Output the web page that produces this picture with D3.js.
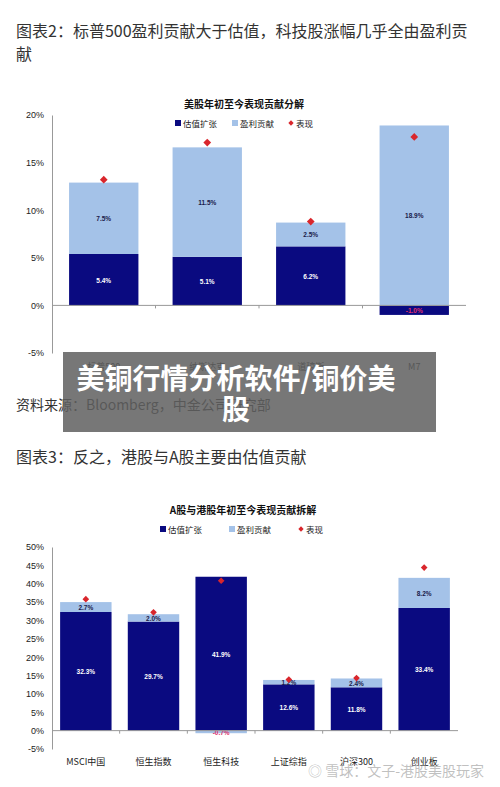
<!DOCTYPE html>
<html><head><meta charset="utf-8">
<script src="https://cdn.jsdelivr.net/npm/d3@7"></script>
<style>body{margin:0;background:#fff}svg{display:block;font-family:"Noto Sans CJK SC","Noto Sans",sans-serif}</style>
</head><body><svg id="c" width="500" height="787"></svg>
<script>
const cats1 = ["标普500","纳斯达克","道琼斯","M7"];
const val1 = [5.4,5.1,6.2,-1.0];
const earn1 = [7.5,11.5,2.5,18.9];
const perf1 = [13.2,17.1,8.8,17.7];
const ticks1 = [-5,0,5,10,15,20];
const cats2 = ["MSCI中国","恒生指数","恒生科技","上证综指","沪深300","创业板"];
const val2 = [32.3,29.7,41.9,12.6,11.8,33.4];
const earn2 = [2.7,2.0,-0.7,1.2,2.4,8.2];
const perf2 = [35.8,32.2,40.8,13.9,14.3,44.4];
const ticks2 = [-5,0,5,10,15,20,25,30,35,40,45,50];
const DARK="#0a0a80", LIGHT="#a4c2e8", RED="#d9262c";
const svg=d3.select("#c");
const T=(x,y,t,o={})=>svg.append("text").attr("x",x).attr("y",y).text(t)
  .attr("font-size",o.s||16).attr("fill",o.c||"#333").attr("font-weight",o.w||"normal").attr("text-anchor",o.a||"start");
T(16,37,"图表2：标普500盈利贡献大于估值，科技股涨幅几乎全由盈利贡");
T(16,60,"献");
T(16,410,"资料来源：Bloomberg，中金公司研究部",{s:14});
T(16,463,"图表3：反之，港股与A股主要由估值贡献");

function chart(o){
  const y=d3.scaleLinear().domain([-5,o.max]).range([o.y0,o.y1]);
  const x=d3.scaleBand().domain(o.cats).range([52,o.xr]).paddingInner(o.pad).paddingOuter(o.pad/2);
  const g=svg.append("g");
  const ax=g.append("g").attr("transform","translate(52,0)").call(d3.axisLeft(y).tickValues(o.ticks).tickFormat(d=>d+"%").tickSize(0).tickPadding(8));
  ax.select(".domain").attr("stroke","#999");
  ax.selectAll("text").attr("font-size",9).attr("fill","#222").attr("font-family","Liberation Sans,Arial");
  o.cats.forEach((c,i)=>{
    const v=o.val[i], e=o.earn[i];
    const base = v>=0? v:0;
    g.append("rect").attr("x",x(c)).attr("width",x.bandwidth()).attr("y",y(Math.max(v,0))).attr("height",Math.abs(y(v)-y(0))).attr("fill",DARK);
    let e0 = e>=0? base : Math.min(v,0);
    let e1 = e0+e;
    g.append("rect").attr("x",x(c)).attr("width",x.bandwidth()).attr("y",y(Math.max(e0,e1))).attr("height",Math.abs(y(e0)-y(e1))).attr("fill",LIGHT);
    const cx=x(c)+x.bandwidth()/2;
    g.append("text").attr("x",cx).attr("y",(y(Math.max(v,0))+y(Math.min(v,0)))/2+3).attr("text-anchor","middle").attr("font-size",6.5).attr("font-weight","bold")
      .attr("fill",v<0?"#e0306a":"#fff").attr("font-family","Liberation Sans,Arial").text(v.toFixed(1)+"%");
    g.append("text").attr("x",cx).attr("y",(y(e0)+y(e1))/2+3).attr("text-anchor","middle").attr("font-size",6.5).attr("font-weight","bold")
      .attr("fill",e<0?"#e0306a":"#1a1a4a").attr("font-family","Liberation Sans,Arial").text(e.toFixed(1)+"%");
    g.append("path").attr("d",d3.symbol(d3.symbolSquare,o.dia)()).attr("transform",`translate(${cx},${y(o.perf[i])}) rotate(45)`).attr("fill",RED);
    g.append("text").attr("x",cx).attr("y",o.ly).attr("text-anchor","middle").attr("font-size",o.ls).attr("fill","#222").text(c);
  });
  g.append("line").attr("x1",52).attr("x2",o.xr).attr("y1",y(0)).attr("y2",y(0)).attr("stroke","#999");
  o.cats.forEach((c,i)=>{ if(i>0){const xx=x(c)-x.step()*o.pad/2; g.append("line").attr("x1",xx).attr("x2",xx).attr("y1",y(0)).attr("y2",y(0)+3).attr("stroke","#999");}});
  g.append("text").attr("x",o.tx).attr("y",o.ty).attr("text-anchor","middle").attr("font-size",10).attr("font-weight","bold").attr("fill","#111").text(o.title);
  const L=[["估值扩张",DARK,"r"],["盈利贡献",LIGHT,"r"],["表现",RED,"d"]];
  L.forEach((l,i)=>{const lx=o.lx[i];
    if(l[2]=="r") g.append("rect").attr("x",lx).attr("y",o.ty+12).attr("width",6).attr("height",6).attr("fill",l[1]);
    else g.append("path").attr("d",d3.symbol(d3.symbolSquare,14)()).attr("transform",`translate(${lx+3},${o.ty+15}) rotate(45)`).attr("fill",RED);
    g.append("text").attr("x",lx+8).attr("y",o.ty+19).attr("font-size",8.5).attr("fill","#222").text(l[0]);});
}
chart({cats:cats1,val:val1,earn:earn1,perf:perf1,ticks:ticks1,max:20,y0:353,y1:115,xr:466,pad:0.33,dia:30,ly:370,ls:9,title:"美股年初至今表现贡献分解",tx:244,ty:108,lx:[175,232,288]});
chart({cats:cats2,val:val2,earn:earn2,perf:perf2,ticks:ticks2,max:50,y0:749,y1:547,xr:458,pad:0.24,dia:22,ly:765,ls:9,title:"A股与港股年初至今表现贡献拆解",tx:243,ty:514,lx:[160,229,298]});

svg.append("rect").attr("x",63).attr("y",352).attr("width",373).attr("height",80).attr("fill","rgba(95,95,95,0.85)");
svg.append("text").attr("x",236).attr("y",389).attr("text-anchor","middle").attr("font-size",28).attr("font-weight","bold").attr("fill","#fff").text("美铜行情分析软件/铜价美");
svg.append("text").attr("x",236).attr("y",420).attr("text-anchor","middle").attr("font-size",28).attr("font-weight","bold").attr("fill","#fff").text("股");
svg.append("text").attr("x",484).attr("y",776).attr("text-anchor","end").attr("font-size",14).attr("fill","rgba(150,150,150,0.6)").text("◎ 雪球：文子-港股美股玩家");
</script>
</body></html>
